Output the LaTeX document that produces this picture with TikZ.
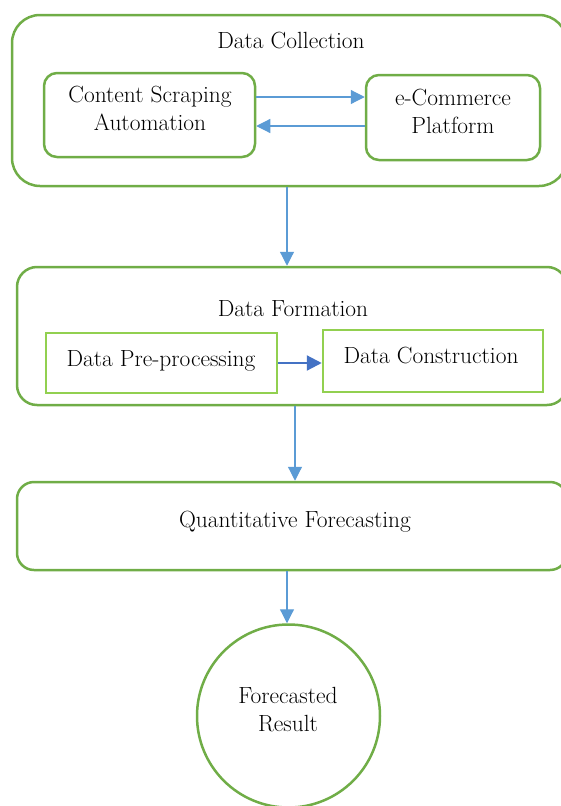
\documentclass[tikz,border=0pt]{standalone}
\usetikzlibrary{arrows.meta}
\definecolor{boxgreen}{HTML}{70AD47}
\definecolor{litegreen}{HTML}{92D050}
\definecolor{linkblue}{HTML}{5B9BD5}
\definecolor{darkblue}{HTML}{4472C4}
\tikzset{
  stage/.style={draw=boxgreen, line width=2.5pt, inner sep=0pt},
  inner/.style={draw=boxgreen, line width=2.5pt, rounded corners=13pt, inner sep=0pt},
  plainbox/.style={draw=litegreen, line width=2.5pt, inner sep=0pt},
  flow/.style={draw=linkblue, line width=1.2pt, -{Triangle[length=14pt,width=14pt]}},
  boldflow/.style={draw=darkblue, line width=2.2pt, -{Triangle[length=15pt,width=15pt]}},
  txt/.style={inner sep=0pt, anchor=base, font=\fontsize{23.4}{29}\selectfont}
}
\begin{document}
\begin{tikzpicture}[x=1pt, y=-1pt]
\useasboundingbox (0,0) rectangle (561,806);
\clip (0,0) rectangle (561,806);

% Stage 1: data collection
\node[stage, rounded corners=28pt, minimum width=555pt, minimum height=171pt] (collect) at (289.5,100.5) {};
\node[txt] (collectT) at (291,48) {Data Collection};
\node[inner, minimum width=211pt, minimum height=84pt] (scrape) at (149.5,115) {};
\node[txt] (scrapeT1) at (150,102) {Content Scraping};
\node[txt] (scrapeT2) at (150,130) {Automation};
\node[inner, minimum width=174pt, minimum height=85pt] (shop) at (453,117.5) {};
\node[txt] (shopT1) at (453,105) {e-Commerce};
\node[txt] (shopT2) at (453,133) {Platform};
\draw[flow] ([yshift=18pt]scrape.east) -- ([yshift=18pt]scrape.east -| shop.west);
\draw[flow] ([yshift=-8.5pt]shop.west) -- ([yshift=-8.5pt]shop.west -| scrape.east);

% Stage 2: data formation
\node[stage, rounded corners=20pt, minimum width=550pt, minimum height=138pt] (form) at (292,336) {};
\node[txt] (formT) at (293,316) {Data Formation};
\node[plainbox, minimum width=231pt, minimum height=60pt] (prep) at (161.5,363) {};
\node[txt] (prepT) at (161,366) {Data Pre-processing};
\node[plainbox, minimum width=220pt, minimum height=62pt] (build) at (433,361) {};
\node[txt] (buildT) at (431,363) {Data Construction};
\draw[boldflow] (prep.east) -- (prep.east -| build.west);

% Stage 3: forecasting
\node[stage, rounded corners=17pt, minimum width=550pt, minimum height=88pt] (quant) at (292,526) {};
\node[txt] (quantT) at (295,527) {Quantitative Forecasting};
\node[circle, draw=boxgreen, line width=2.5pt, minimum size=183pt, inner sep=0pt] (result) at (288.5,716) {};
\node[txt] (resultT1) at (288,703) {Forecasted};
\node[txt] (resultT2) at (288,731) {Result};

% Links between stages
\draw[flow] ([xshift=-2.5pt]collect.south) -- ([xshift=-2.5pt]collect.south |- form.north);
\draw[flow] ([xshift=3pt]form.south) -- ([xshift=3pt]form.south |- quant.north);
\draw[flow] ([xshift=-5pt]quant.south) -- ([xshift=-5pt]quant.south |- result.north);
\end{tikzpicture}
\end{document}
